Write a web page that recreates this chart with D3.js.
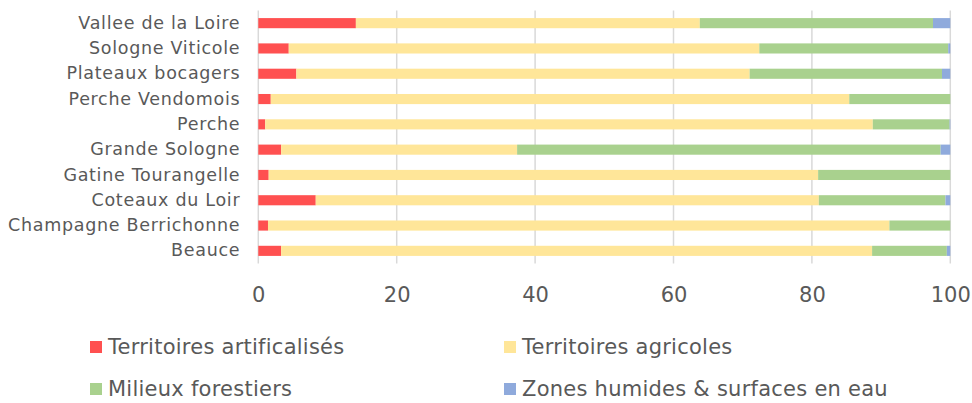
<!DOCTYPE html>
<html>
<head>
<meta charset="utf-8">
<script src="https://cdn.jsdelivr.net/npm/d3@7"></script>
<style>
  body { margin: 0; background: #fff; }
  text { font-family: "DejaVu Sans", sans-serif; fill: #595959; }
</style>
</head>
<body>
<div id="chart"></div>
<script>
// categories, top to bottom
var regions = ["Vallee de la Loire", "Sologne Viticole", "Plateaux bocagers", "Perche Vendomois",
  "Perche", "Grande Sologne", "Gatine Tourangelle", "Coteaux du Loir",
  "Champagne Berrichonne", "Beauce"];

// series values (% of surface)
var artificialises = [14.1, 4.4, 5.5, 1.8, 1.0, 3.3, 1.5, 8.3, 1.4, 3.3];
var agricoles      = [49.7, 68.0, 65.5, 83.6, 87.8, 34.1, 79.4, 72.7, 89.8, 85.4];
var forestiers     = [33.7, 27.3, 27.8, 14.6, 11.1, 61.2, 19.1, 18.3, 8.8, 10.8];
var humides        = [2.5, 0.3, 1.2, 0.0, 0.1, 1.4, 0.0, 0.7, 0.0, 0.5];

var seriesNames = ["Territoires artificalisés", "Territoires agricoles",
  "Milieux forestiers", "Zones humides & surfaces en eau"];
var seriesColors = ["#ff5050", "#ffe699", "#a9d18e", "#8faadc"];
var xTicks = [0, 20, 40, 60, 80, 100];

var W = 972, H = 403;
var margin = {top: 10.5, right: 21.7, bottom: 139.5, left: 258.3};
var width = W - margin.left - margin.right,
    height = H - margin.top - margin.bottom;

var svg = d3.select("#chart").append("svg")
  .attr("width", W).attr("height", H);
var g = svg.append("g")
  .attr("transform", "translate(" + margin.left + "," + margin.top + ")");

// build rows for the stack
var rows = regions.map(function(r, i) {
  return {region: r, s0: artificialises[i], s1: agricoles[i], s2: forestiers[i], s3: humides[i]};
});
var stack = d3.stack().keys(["s0", "s1", "s2", "s3"])(rows);

var x = d3.scaleLinear().domain([0, 100]).range([0, width]);
var y = d3.scaleBand().domain(regions).range([0, height]).paddingInner(0.6).paddingOuter(0.3);

// gridlines
g.selectAll(".grid").data(xTicks).enter().append("line")
  .attr("x1", d => x(d)).attr("x2", d => x(d))
  .attr("y1", 0).attr("y2", height)
  .attr("stroke", "#d9d9d9").attr("stroke-width", 1.5);

// bars
g.selectAll(".serie").data(stack).enter().append("g")
  .attr("fill", (d, i) => seriesColors[i])
  .selectAll("rect").data(d => d).enter().append("rect")
  .attr("x", d => x(d[0]))
  .attr("width", d => Math.max(0, x(d[1]) - x(d[0])))
  .attr("y", d => y(d.data.region))
  .attr("height", y.bandwidth());

// x axis
var xAxis = g.append("g")
  .attr("transform", "translate(0," + height + ")")
  .call(d3.axisBottom(x).tickValues(xTicks).tickSize(0).tickPadding(24));
xAxis.select(".domain").remove();
xAxis.selectAll("text").style("font-size", "21px").style("font-family", null);

// y axis
var yAxis = g.append("g")
  .call(d3.axisLeft(y).tickSize(0).tickPadding(18));
yAxis.select(".domain").remove();
yAxis.selectAll("text").style("font-size", "17.5px").style("letter-spacing", "0.7px")
  .style("font-family", null);

// legend
var legPos = [[90, 347], [504, 347], [90, 389], [504, 389]];
var leg = svg.selectAll(".leg").data(seriesNames).enter().append("g")
  .attr("transform", (d, i) => "translate(" + legPos[i][0] + "," + legPos[i][1] + ")");
leg.append("rect").attr("x", 0).attr("y", -6).attr("width", 12).attr("height", 12)
  .attr("fill", (d, i) => seriesColors[i]);
leg.append("text").attr("x", 18).attr("dy", "0.35em")
  .style("font-size", "21px").style("letter-spacing", "0.25px").text(d => d);
</script>
</body>
</html>
